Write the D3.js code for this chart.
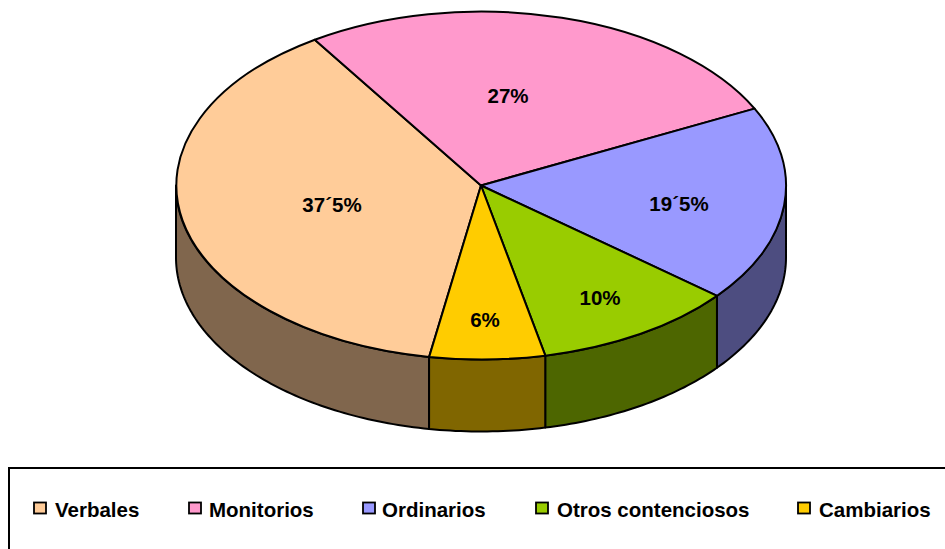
<!DOCTYPE html>
<html><head><meta charset="utf-8">
<script src="https://cdn.jsdelivr.net/npm/d3@7"></script>
<style>html,body{margin:0;background:#fff}svg{display:block}text{font-family:"Liberation Sans",Arial,sans-serif;font-weight:bold;fill:#000}</style>
</head><body><svg id="c" width="945" height="549"></svg>
<script>
const categories = ["Verbales","Monitorios","Ordinarios","Otros contenciosos","Cambiarios"];
const sliceShares = [38.1,26.9,18.2,10.7,6.1];
const sliceLabels = ["37´5%","27%","19´5%","10%","6%"];
const topColors = ["#FFCC99","#FF99CC","#9999FF","#99CC00","#FFCC00"];
const wallColors = ["#80664D","#804D66","#4D4D80","#4D6600","#806600"];
const labelPos = [[332,205],[508,96],[679,204],[600,298],[485,320]];
const legendTextX = [55,209,382,557,819];
const legendSwatchX = [34,189,363,536,798];

const cx=481, cy=185.5, rx=305, ry=174, depth=72;
const svg=d3.select("#c");
const deg=Math.PI/180;
const start=-(33+137.2)*deg; // Verbales begins here, clockwise from top
const pie=d3.pie().value(d=>d).sort(null).startAngle(start).endAngle(start+2*Math.PI);
const arcs=pie(sliceShares);
const px=d3.scaleLinear().domain([-1,1]).range([cx-rx,cx+rx]);
const py=d3.scaleLinear().domain([-1,1]).range([cy-ry,cy+ry]);
const line=d3.line().x(d=>d[0]).y(d=>d[1]);

// front walls
arcs.forEach((a,i)=>{
  [0,2*Math.PI,-2*Math.PI].forEach(off=>{
    const s=Math.max(a.startAngle+off,Math.PI/2), e=Math.min(a.endAngle+off,3*Math.PI/2);
    if(e<=s) return;
    const n=Math.ceil((e-s)/deg);
    const top=d3.range(n+1).map(k=>{const t=s+(e-s)*k/n;return [px(Math.sin(t)),py(-Math.cos(t))];});
    const pts=top.concat(top.slice().reverse().map(p=>[p[0],p[1]+depth]));
    svg.append("path").attr("d",line(pts)+"Z").attr("fill",wallColors[i])
      .attr("stroke","#000").attr("stroke-width",2).attr("stroke-linejoin","round");
  });
});
// top face
const arc=d3.arc().innerRadius(0).outerRadius(1);
const g=svg.append("g").attr("transform",`translate(${cx},${cy}) scale(${rx},${ry})`);
g.selectAll("path").data(arcs).join("path").attr("d",arc)
  .attr("fill",(d,i)=>topColors[i]).attr("stroke","#000")
  .attr("stroke-width",2).attr("vector-effect","non-scaling-stroke").attr("stroke-linejoin","round");
// labels
svg.selectAll("text.l").data(sliceLabels).join("text").attr("class","l")
  .attr("x",(d,i)=>labelPos[i][0]).attr("y",(d,i)=>labelPos[i][1]+7)
  .attr("text-anchor","middle").attr("font-size",20.5).text(d=>d);
// legend
svg.append("rect").attr("x",9).attr("y",468).attr("width",945).attr("height",90)
  .attr("fill","#fff").attr("stroke","#000").attr("stroke-width",2);
categories.forEach((c,i)=>{
  svg.append("rect").attr("x",legendSwatchX[i]).attr("y",502.5).attr("width",12).attr("height",11)
    .attr("fill",topColors[i]).attr("stroke","#000").attr("stroke-width",1.8);
  svg.append("text").attr("x",legendTextX[i]).attr("y",517).attr("font-size",20.5).text(c);
});
</script></body></html>
